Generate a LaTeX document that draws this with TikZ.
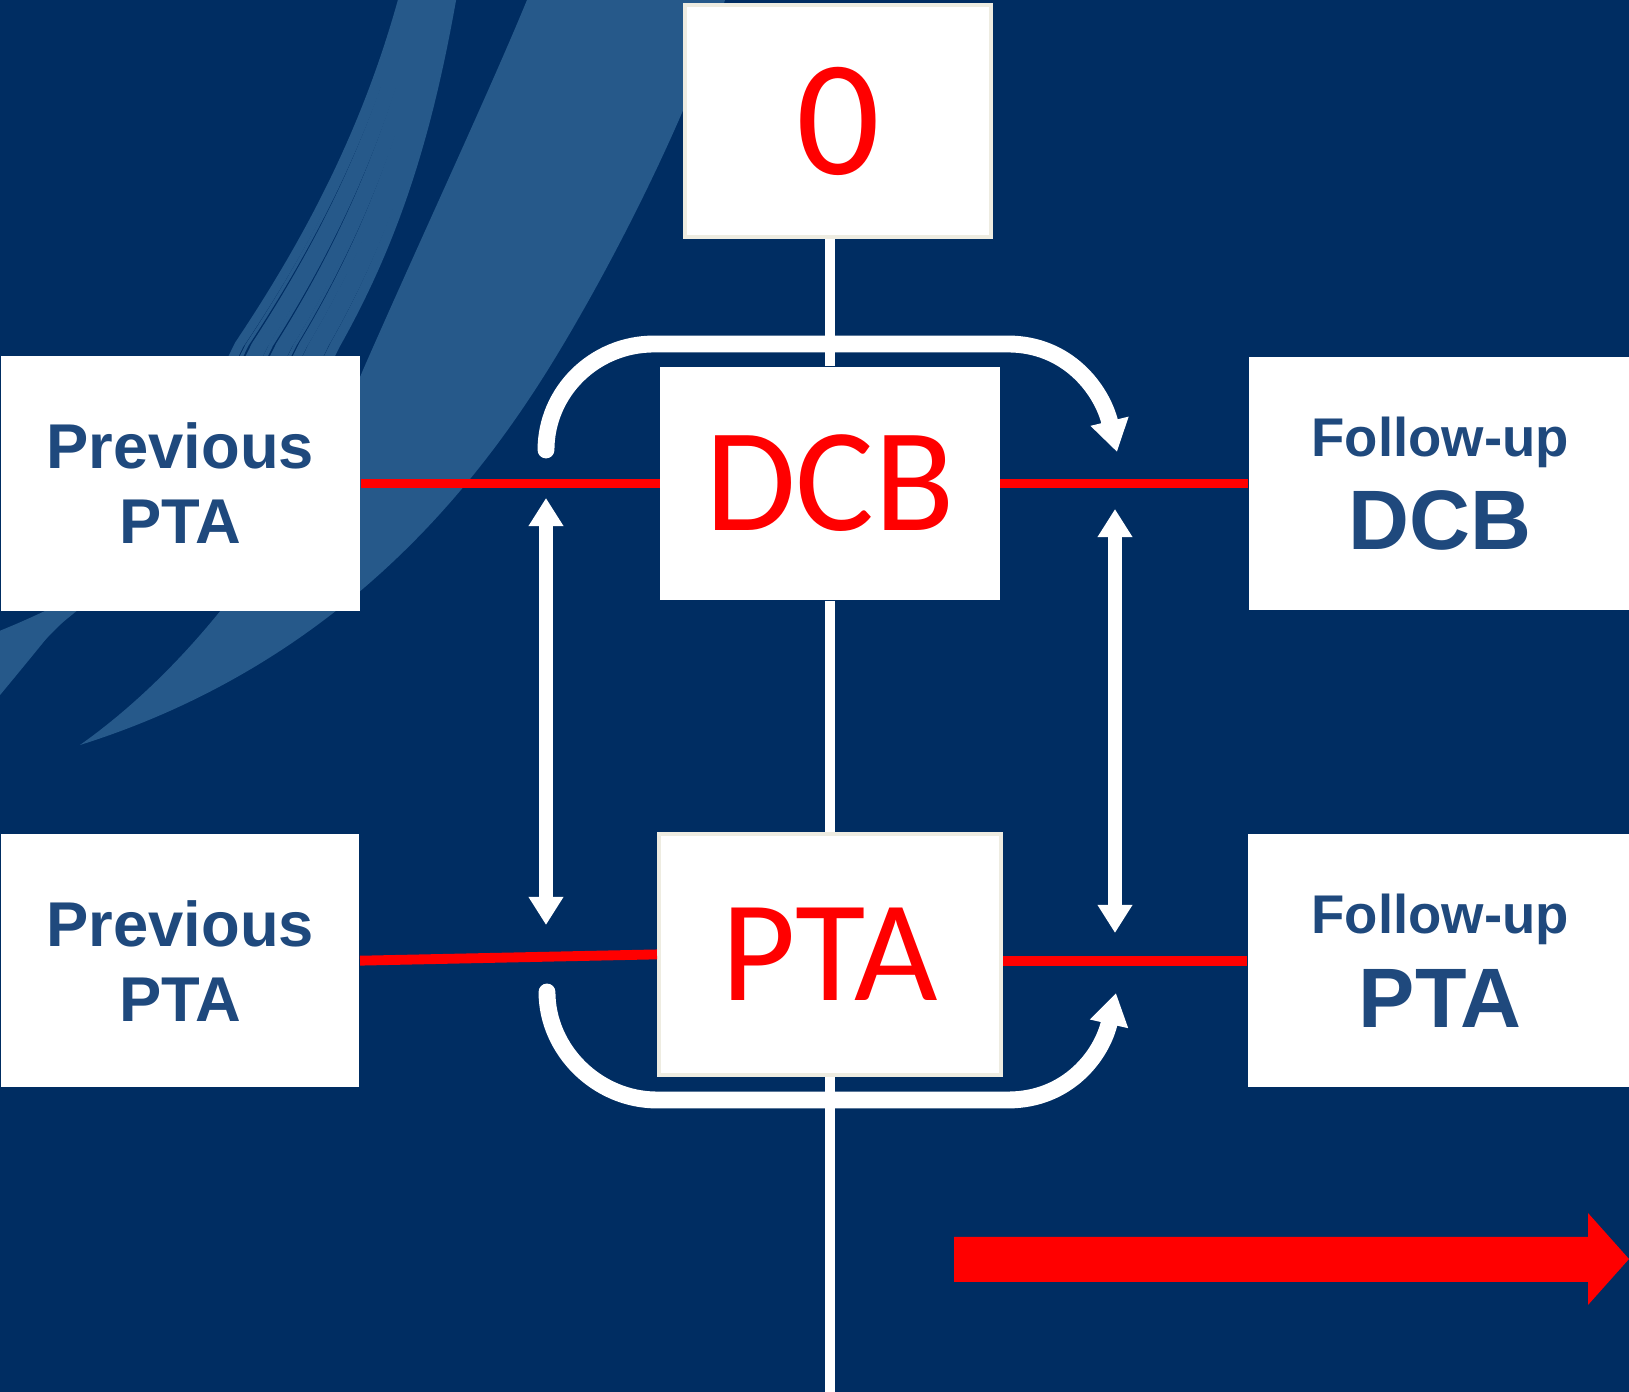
\documentclass[tikz,border=0pt]{standalone}
\usepackage{fontspec}
\setmainfont{Liberation Sans}
\newfontfamily\calibri{Carlito}
\usetikzlibrary{positioning}
\usetikzlibrary{arrows.meta}
\definecolor{bgblue}{RGB}{0,45,98}
\definecolor{brushblue}{RGB}{38,89,138}
\definecolor{textblue}{RGB}{31,73,125}
\definecolor{rimgray}{RGB}{238,236,225}

\begin{document}
\begin{tikzpicture}[x=0.01cm, y=-0.01cm,
  redbox/.style={fill=white, inner sep=0pt, text=red, font=\calibri\fontsize{42}{42}\selectfont},
  sidebox/.style={fill=white, inner sep=0pt, align=center, text=textblue, font=\bfseries\fontsize{18}{21.3}\selectfont},
  followbox/.style={sidebox, font=\bfseries\fontsize{15.5}{26.5}\selectfont},
  redlink/.style={red, line width=2.8pt},
  spine/.style={white, line width=3.1pt},
  loopline/.style={white, line width=4.8pt, line cap=round, -{Triangle[width=10.5pt, length=9pt]}},
  shuttle/.style={white, line width=4.2pt, {Triangle[width=9.4pt, length=8pt]}-{Triangle[width=9.4pt, length=8pt]}}]
  \useasboundingbox (0,0) rectangle (1629,1392);
  \fill[bgblue] (0,0) rectangle (1629,1392);

  % brush stroke
  \fill[brushblue] (527,0) -- (725,0) .. controls (690,110) and (620,250) .. (560,350)
    .. controls (488,470) and (350,660) .. (80,745)
    .. controls (200,660) and (300,520) .. (363,370)
    .. controls (420,240) and (490,90) .. (527,0) -- cycle;
  \foreach \k/\w in {0/2.8,1/1.0,2/3.4,3/1.5,4/2.4,5/0.9,6/3.0,7/1.8,8/1.2,9/2.8,10/2.0,11/0.9,12/2.6}
    \draw[brushblue, line width=\w pt] (452-4*\k,-5) .. controls (430-5*\k,120) and (400-7*\k,230) .. (335-8*\k,345)
      .. controls (280-8*\k,460) and (170-6*\k,570) .. (-10,640+5*\k);

  \node[redbox, minimum width=3.39cm, minimum height=2.33cm] (dcb) at (830,483.5) {DCB};
  \node[redbox, draw=rimgray, line width=1.1pt, minimum width=3.42cm, minimum height=2.41cm,
    font=\calibri\fontsize{41}{41}\selectfont, below=2.31cm of dcb] (pta) {PTA};
  \node[redbox, draw=rimgray, line width=1.1pt, minimum width=3.06cm, minimum height=2.32cm,
    font=\calibri\fontsize{47}{47}\selectfont, above=1.27cm of dcb, xshift=0.08cm] (zero) {0};

  \node[sidebox, minimum width=3.59cm, minimum height=2.54cm, left=2.99cm of dcb] (prev1) {Previous\\PTA};
  \node[sidebox, minimum width=3.58cm, minimum height=2.53cm, below=2.22cm of prev1] (prev2) {Previous\\PTA};
  \node[followbox, minimum width=3.82cm, minimum height=2.52cm, right=2.48cm of dcb] (follow1)
    {Follow-up\\{\fontsize{24}{26.5}\selectfont DCB}};
  \node[followbox, minimum width=3.84cm, minimum height=2.53cm, below=2.23cm of follow1] (follow2)
    {Follow-up\\{\fontsize{24}{26.5}\selectfont PTA}};

  \coordinate (floor) at (830,1400);
  \draw[spine] (dcb.north) -- (dcb.north |- zero.south);
  \draw[spine] (dcb) -- (pta);
  \draw[spine] (pta) -- (floor);

  \draw[redlink] (prev1) -- (dcb);
  \draw[redlink] (dcb) -- (follow1);
  \draw[redlink] (prev2.east) -- (pta.west);
  \draw[redlink] (pta.east |- follow2.west) -- (follow2.west);

  \coordinate (a1) at (546,450);
  \coordinate (a2) at (1117,452);
  \coordinate (b1) at (547,992);
  \coordinate (b2) at (1116,993);
  \draw[loopline] (a1) .. controls (546,392) and (594,344) .. (654,344) -- (1008,344)
    .. controls (1068,344) and (1102,390) .. (a2);
  \draw[loopline] (b1) .. controls (547,1050) and (597,1100) .. (657,1100) -- (1008,1100)
    .. controls (1068,1100) and (1102,1055) .. (b2);

  \coordinate (l1) at (546,498);
  \coordinate (l2) at (546,925);
  \coordinate (r1) at (1115,509);
  \coordinate (r2) at (1115,933);
  \draw[shuttle] (l1) -- (l2);
  \draw[shuttle] (r1) -- (r2);

  \fill[red] (954,1237) -- (1588,1237) -- (1588,1213) -- (1629,1259) -- (1588,1305)
    -- (1588,1282) -- (954,1282) -- cycle;
\end{tikzpicture}
\end{document}
